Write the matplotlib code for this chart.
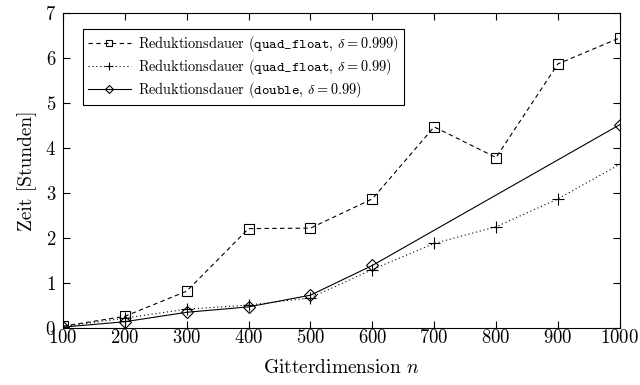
import matplotlib
matplotlib.use('Agg')
import matplotlib.pyplot as plt

plt.rcParams['font.family'] = 'serif'
plt.rcParams['font.serif'] = ['cmr10', 'DejaVu Serif']
plt.rcParams['mathtext.fontset'] = 'cm'
plt.rcParams['axes.formatter.use_mathtext'] = True

# Reduktionsdauer in Stunden je Gitterdimension
n_all = [100, 200, 300, 400, 500, 600, 700, 800, 900, 1000]
qf_0999 = [0.04, 0.26, 0.82, 2.21, 2.22, 2.87, 4.47, 3.79, 5.87, 6.45]
qf_099 = [0.03, 0.22, 0.42, 0.51, 0.67, 1.30, 1.88, 2.25, 2.87, 3.64]
n_double = [100, 200, 300, 400, 500, 600, 1000]
dbl_099 = [0.02, 0.14, 0.35, 0.47, 0.73, 1.39, 4.52]

fig = plt.figure(figsize=(6.4, 3.85), dpi=100)
ax = fig.add_axes([0.0984, 0.148, 0.870, 0.818])

mkw = dict(color='black', markerfacecolor='none', markeredgecolor='black',
           linewidth=0.8, markeredgewidth=0.8)
ax.plot(n_all, qf_0999, linestyle=(0, (4, 3)), marker='s', markersize=7,
        label=r'Reduktionsdauer ($\mathtt{quad\_float}$, $\delta = 0.999$)', **mkw)
ax.plot(n_all, qf_099, linestyle=(0, (1, 2.5)), marker='+', markersize=9,
        label=r'Reduktionsdauer ($\mathtt{quad\_float}$, $\delta = 0.99$)', **mkw)
ax.plot(n_double, dbl_099, linestyle='-', marker='D', markersize=6,
        label=r'Reduktionsdauer ($\mathtt{double}$, $\delta = 0.99$)', **mkw)

ax.set_xlim(100, 1000)
ax.set_ylim(0, 7)
ax.set_xticks(range(100, 1001, 100))
ax.set_yticks(range(0, 8))
ax.tick_params(direction='in', top=True, right=True, length=5, width=0.8,
               labelsize=13.5)
ax.tick_params(axis='x', pad=1)
ax.tick_params(axis='y', pad=5)
for s in ax.spines.values():
    s.set_linewidth(0.8)

ax.set_xlabel(r'Gitterdimension $n$', fontsize=14, labelpad=8)
ax.set_ylabel('Zeit [Stunden]', fontsize=14, labelpad=6)

leg = ax.legend(loc='upper left', bbox_to_anchor=(0.036, 0.95), borderaxespad=0,
                fontsize=10.3, fancybox=False, framealpha=1, edgecolor='black',
                handlelength=3.0, handletextpad=0.5, borderpad=0.35,
                labelspacing=0.2, markerscale=0.7)
leg.get_frame().set_linewidth(0.8)

fig.savefig('out.png', dpi=100)
